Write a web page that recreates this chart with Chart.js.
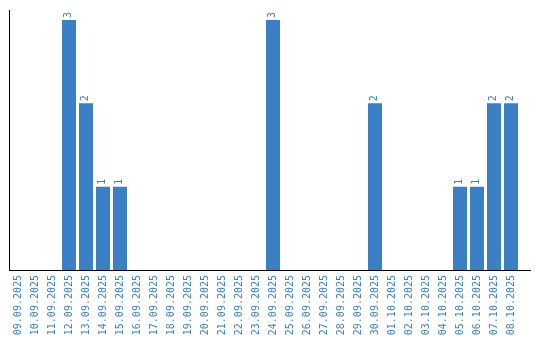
<!DOCTYPE html>
<html>
<head>
<meta charset="utf-8">
<script src="https://cdn.jsdelivr.net/npm/chart.js@4"></script>
<style>
  html, body { margin: 0; padding: 0; background: #fff; }
  #wrap { width: 540px; height: 340px; }
</style>
</head>
<body>
<div id="wrap"><canvas id="chart"></canvas></div>
<script>
// data
const dates = [
  '09.09.2025', '10.09.2025', '11.09.2025', '12.09.2025', '13.09.2025', '14.09.2025',
  '15.09.2025', '16.09.2025', '17.09.2025', '18.09.2025', '19.09.2025', '20.09.2025',
  '21.09.2025', '22.09.2025', '23.09.2025', '24.09.2025', '25.09.2025', '26.09.2025',
  '27.09.2025', '28.09.2025', '29.09.2025', '30.09.2025', '01.10.2025', '02.10.2025',
  '03.10.2025', '04.10.2025', '05.10.2025', '06.10.2025', '07.10.2025', '08.10.2025'
];
const counts = [
  0, 0, 0, 3, 2, 1,
  1, 0, 0, 0, 0, 0,
  0, 0, 0, 3, 0, 0,
  0, 0, 0, 2, 0, 0,
  0, 0, 1, 1, 2, 2
];

const BLUE = '#3b7fc4';
const MONO = '"DejaVu Sans Mono"';

// values written vertically above each bar, plus the x axis running a bit past the last bar
const barLabels = {
  id: 'barLabels',
  afterDatasetsDraw(chart) {
    const ctx = chart.ctx;
    const meta = chart.getDatasetMeta(0);
    ctx.save();
    ctx.fillStyle = BLUE;
    ctx.font = '10px ' + MONO;
    ctx.textAlign = 'left';
    ctx.textBaseline = 'middle';
    meta.data.forEach((bar, i) => {
      const v = counts[i];
      if (!v) return;
      ctx.save();
      ctx.translate(bar.x - 1, bar.y - 2);
      ctx.rotate(-Math.PI / 2);
      ctx.fillText(String(v), 0, 0);
      ctx.restore();
    });
    const area = chart.chartArea;
    const y = Math.round(area.bottom) + 0.5;
    ctx.strokeStyle = '#000';
    ctx.lineWidth = 1;
    ctx.beginPath();
    ctx.moveTo(area.right - 1, y);
    ctx.lineTo(area.right + 11.5, y);
    ctx.stroke();
    ctx.restore();
  }
};

new Chart(document.getElementById('chart'), {
  type: 'bar',
  data: {
    labels: dates,
    datasets: [{ data: counts, backgroundColor: BLUE, barPercentage: 14 / 17, categoryPercentage: 1 }]
  },
  options: {
    responsive: true,
    maintainAspectRatio: false,
    animation: false,
    layout: { padding: { left: 1.5, top: 10, right: 20.5, bottom: 3 } },
    plugins: { legend: { display: false }, tooltip: { enabled: false } },
    scales: {
      x: {
        grid: { display: false },
        border: { color: '#000', width: 1 },
        ticks: {
          color: BLUE, minRotation: 90, maxRotation: 90, autoSkip: false,
          font: { family: 'DejaVu Sans Mono', size: 10 }, padding: -3
        },
        afterFit(scale) { scale.height = 67; }
      },
      y: {
        min: 0,
        max: 3.12,
        grid: { display: false },
        border: { color: '#000', width: 1 },
        ticks: { display: false }
      }
    }
  },
  plugins: [barLabels]
});
</script>
</body>
</html>
